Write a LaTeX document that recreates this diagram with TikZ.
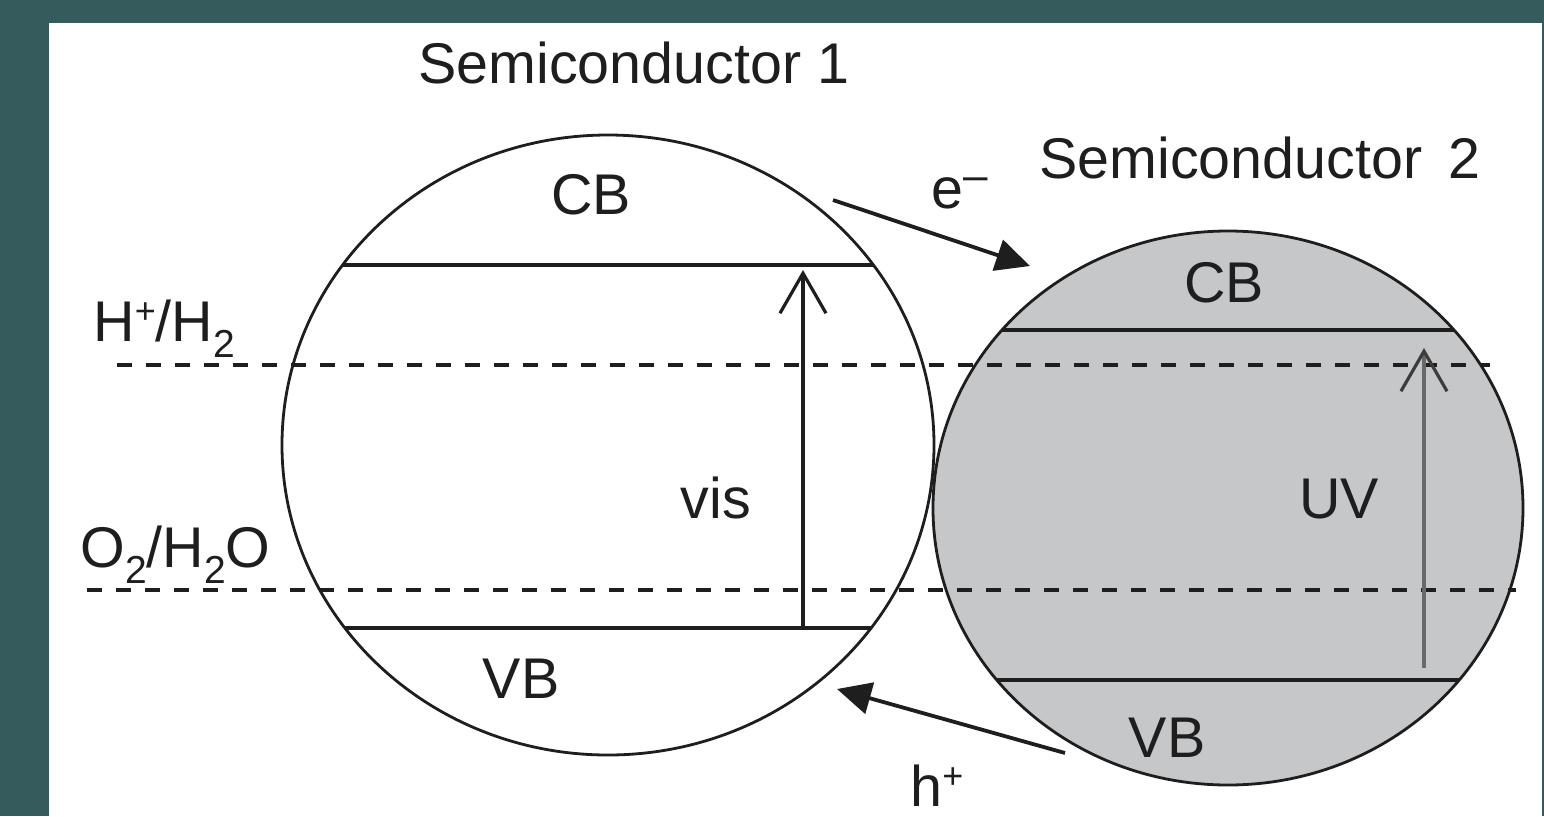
\documentclass[tikz,border=0pt]{standalone}
\usepackage{fontspec}
\setmainfont{Liberation Sans}
\usetikzlibrary{arrows.meta}
\definecolor{bgteal}{RGB}{54,91,93}
\definecolor{scgray}{RGB}{198,199,201}
\definecolor{uvgray}{RGB}{105,105,105}
\definecolor{uvtip}{RGB}{60,60,60}
\definecolor{ink}{RGB}{30,30,30}
\newcommand{\mysub}[1]{\raisebox{-8pt}{\fontsize{19.5}{20}\selectfont #1}}
\newcommand{\mysup}[1]{\raisebox{9pt}{\fontsize{18}{18}\selectfont #1}}
\tikzset{
  lbl/.style={font=\fontsize{28.7}{32}\selectfont, text=ink, inner sep=0pt},
  outline/.style={draw=ink, line width=1.4pt},
  band/.style={draw=ink, line width=1.9pt},
  level/.style={draw=ink, line width=1.9pt, dash pattern=on 7.5pt off 7pt},
  transfer/.style={draw=ink, line width=1.9pt, -{Triangle[length=17pt,width=16pt]}},
  excite/.style={line width=1.6pt, -{Straight Barb[length=20pt,width=23pt,line width=1.6pt]}},
  exciteuv/.style={line width=1.6pt, -{Straight Barb[length=20pt,width=23pt,line width=1.6pt,color=uvtip]}}
}
\begin{document}
\begin{tikzpicture}[x=0.5pt,y=-0.5pt]
  % background and white panel
  \fill[bgteal] (0,0) rectangle (1544,816);
  \fill[white] (49,23) rectangle (1542,816);
  \useasboundingbox (0,0) rectangle (1544,816);

  % centres of the two particles
  \coordinate (c1) at (608,445);
  \coordinate (c2) at (1228,508);

  % semiconductor 2 fill
  \fill[scgray] (c2) ellipse [x radius=295, y radius=277];

  % redox levels
  \coordinate (hL) at (117,365);  \coordinate (hR) at (1490,365);
  \coordinate (oL) at (87,590);   \coordinate (oR) at (1516,590);
  \draw[level] (hL) -- (hR);
  \draw[level] (oL) -- (oR);

  % band edges, clipped to each particle
  \begin{scope}
    \clip (c1) ellipse [x radius=326, y radius=310];
    \coordinate (cb1L) at (250,265); \coordinate (cb1R) at (960,265);
    \coordinate (vb1L) at (250,628); \coordinate (vb1R) at (960,628);
    \draw[band] (cb1L) -- (cb1R);
    \draw[band] (vb1L) -- (vb1R);
  \end{scope}
  \begin{scope}
    \clip (c2) ellipse [x radius=295, y radius=277];
    \coordinate (cb2L) at (900,330); \coordinate (cb2R) at (1540,330);
    \coordinate (vb2L) at (900,680); \coordinate (vb2R) at (1540,680);
    \draw[band] (cb2L) -- (cb2R);
    \draw[band] (vb2L) -- (vb2R);
  \end{scope}

  % particle outlines
  \draw[outline] (c1) ellipse [x radius=326, y radius=310];
  \draw[outline] (c2) ellipse [x radius=295, y radius=277];

  % excitation arrows
  \coordinate (visB) at (803,628); \coordinate (visT) at (803,270);
  \draw[excite, draw=ink] (visB) -- (visT);
  \coordinate (uvB) at (1424,668); \coordinate (uvT) at (1424,348);
  \draw[exciteuv, draw=uvgray] (uvB) -- (uvT);

  % charge transfer arrows
  \coordinate (eS) at (833,200); \coordinate (eT) at (1030,266);
  \draw[transfer] (eS) -- (eT);
  \coordinate (hS) at (1065,753); \coordinate (hT) at (837,689);
  \draw[transfer] (hS) -- (hT);

  % labels
  \node[lbl, anchor=base west] (t1) at (418,83) {Semiconductor 1};
  \node[lbl, anchor=base west] (t2) at (1039,178) {Semiconductor\hspace{13pt}2};
  \node[lbl, anchor=base] (cb1) at (591,214) {CB};
  \node[lbl, anchor=base] (vb1) at (521,698) {VB};
  \node[lbl, anchor=base] (cb2) at (1224,302) {CB};
  \node[lbl, anchor=base] (vb2) at (1167,757) {VB};
  \node[lbl, anchor=base] (vis) at (716,518) {vis};
  \node[lbl, anchor=base] (uv) at (1339,518) {UV};
  \node[lbl, anchor=base west] (el) at (931,208) {e\raisebox{9pt}{\fontsize{22}{22}\selectfont –}};
  \node[lbl, anchor=base west] (hp) at (910,806) {h\mysup{+}};
  \node[lbl, anchor=base west] (hh) at (93,341) {H\mysup{+}/H\mysub{2}};
  \node[lbl, anchor=base west] (oo) at (80,567) {O\mysub{2}/H\mysub{2}O};
\end{tikzpicture}
\end{document}
